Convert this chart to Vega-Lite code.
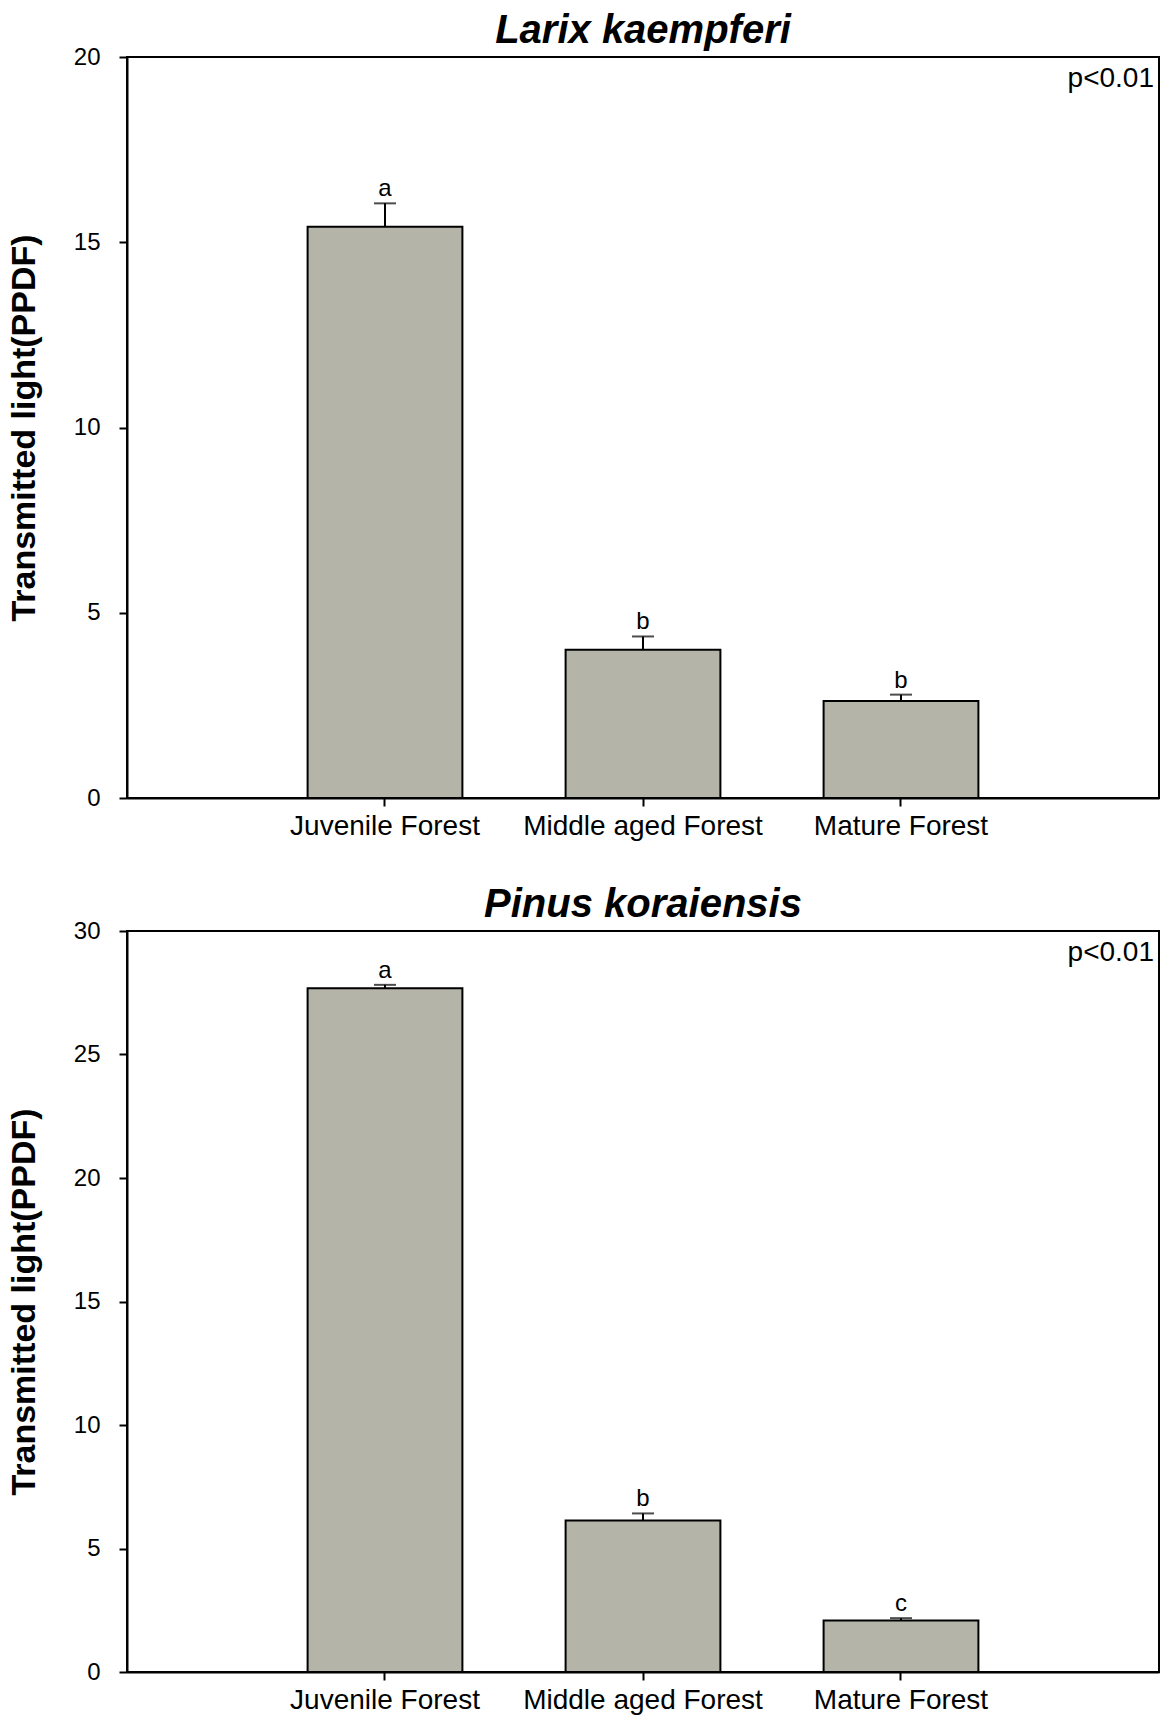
{
  "$schema": "https://vega.github.io/schema/vega-lite/v6.json",
  "background": "white",
  "padding": {"left": 6, "top": 10, "right": 8, "bottom": 2},
  "spacing": 43,
  "config": {
    "font": "Liberation Sans",
    "view": {"stroke": "black", "strokeWidth": 2},
    "axis": {"domainColor": "black", "domainWidth": 2, "tickColor": "black", "tickWidth": 2, "tickSize": 8, "labelColor": "black", "labelFont": "Liberation Sans", "labelFontSize": 24, "grid": false, "titleFont": "Liberation Sans", "titleFontSize": 34, "titleFontWeight": "bold", "titleColor": "black"},
    "title": {"font": "Liberation Sans", "fontSize": 40, "fontStyle": "italic", "fontWeight": "bold", "color": "black", "offset": -6}
  },
  "datasets": {
    "larix": [
      {"stand": "Juvenile Forest", "mean": 15.42, "upper": 16.05, "letter": "a"},
      {"stand": "Middle aged Forest", "mean": 4.0, "upper": 4.36, "letter": "b"},
      {"stand": "Mature Forest", "mean": 2.62, "upper": 2.79, "letter": "b"}
    ],
    "pinus": [
      {"stand": "Juvenile Forest", "mean": 27.68, "upper": 27.82, "letter": "a"},
      {"stand": "Middle aged Forest", "mean": 6.13, "upper": 6.42, "letter": "b"},
      {"stand": "Mature Forest", "mean": 2.08, "upper": 2.18, "letter": "c"}
    ]
  },
  "vconcat": [
    {
      "width": 1032, "height": 741,
      "title": "Larix kaempferi",
      "data": {"name": "larix"},
      "encoding": {"x": {"field": "stand", "type": "nominal", "sort": null, "scale": {"paddingInner": 0.4, "paddingOuter": 0.7}, "axis": {"title": null, "labelAngle": 0, "labelPadding": 6, "labelFontSize": 28, "labelLimit": 0}}},
      "layer": [
        {"mark": {"type": "bar", "fill": "#b4b4a8", "stroke": "black", "strokeWidth": 2},
         "encoding": {"y": {"field": "mean", "type": "quantitative", "scale": {"domain": [0, 20]}, "axis": {"title": "Transmitted light(PPDF)", "values": [0, 5, 10, 15, 20], "labelPadding": 19, "titlePadding": 32}}}},
        {"mark": {"type": "rule", "color": "black", "strokeWidth": 2},
         "encoding": {"y": {"field": "mean", "type": "quantitative", "scale": {"domain": [0, 20]}}, "y2": {"field": "upper"}}},
        {"mark": {"type": "tick", "color": "black", "thickness": 2, "size": 22, "orient": "horizontal"},
         "encoding": {"y": {"field": "upper", "type": "quantitative", "scale": {"domain": [0, 20]}, "title": "Transmitted light(PPDF)"}}},
        {"mark": {"type": "text", "fontSize": 24, "baseline": "bottom", "dy": -2, "color": "black"},
         "encoding": {"y": {"field": "upper", "type": "quantitative", "scale": {"domain": [0, 20]}, "title": "Transmitted light(PPDF)"}, "text": {"field": "letter"}}},
        {"data": {"values": [{"p": "p<0.01"}]},
         "mark": {"type": "text", "align": "right", "baseline": "top", "fontSize": 28, "dx": -5, "dy": 8, "color": "black"},
         "encoding": {"x": {"value": "width"}, "y": {"datum": 20, "type": "quantitative", "scale": {"domain": [0, 20]}, "title": "Transmitted light(PPDF)"}, "text": {"field": "p"}}}
      ]
    },
    {
      "width": 1032, "height": 741,
      "title": "Pinus koraiensis",
      "data": {"name": "pinus"},
      "encoding": {"x": {"field": "stand", "type": "nominal", "sort": null, "scale": {"paddingInner": 0.4, "paddingOuter": 0.7}, "axis": {"title": null, "labelAngle": 0, "labelPadding": 6, "labelFontSize": 28, "labelLimit": 0}}},
      "layer": [
        {"mark": {"type": "bar", "fill": "#b4b4a8", "stroke": "black", "strokeWidth": 2},
         "encoding": {"y": {"field": "mean", "type": "quantitative", "scale": {"domain": [0, 30]}, "axis": {"title": "Transmitted light(PPDF)", "values": [0, 5, 10, 15, 20, 25, 30], "labelPadding": 19, "titlePadding": 32}}}},
        {"mark": {"type": "rule", "color": "black", "strokeWidth": 2},
         "encoding": {"y": {"field": "mean", "type": "quantitative", "scale": {"domain": [0, 30]}}, "y2": {"field": "upper"}}},
        {"mark": {"type": "tick", "color": "black", "thickness": 2, "size": 22, "orient": "horizontal"},
         "encoding": {"y": {"field": "upper", "type": "quantitative", "scale": {"domain": [0, 30]}, "title": "Transmitted light(PPDF)"}}},
        {"mark": {"type": "text", "fontSize": 24, "baseline": "bottom", "dy": -2, "color": "black"},
         "encoding": {"y": {"field": "upper", "type": "quantitative", "scale": {"domain": [0, 30]}, "title": "Transmitted light(PPDF)"}, "text": {"field": "letter"}}},
        {"data": {"values": [{"p": "p<0.01"}]},
         "mark": {"type": "text", "align": "right", "baseline": "top", "fontSize": 28, "dx": -5, "dy": 8, "color": "black"},
         "encoding": {"x": {"value": "width"}, "y": {"datum": 30, "type": "quantitative", "scale": {"domain": [0, 30]}, "title": "Transmitted light(PPDF)"}, "text": {"field": "p"}}}
      ]
    }
  ]
}
